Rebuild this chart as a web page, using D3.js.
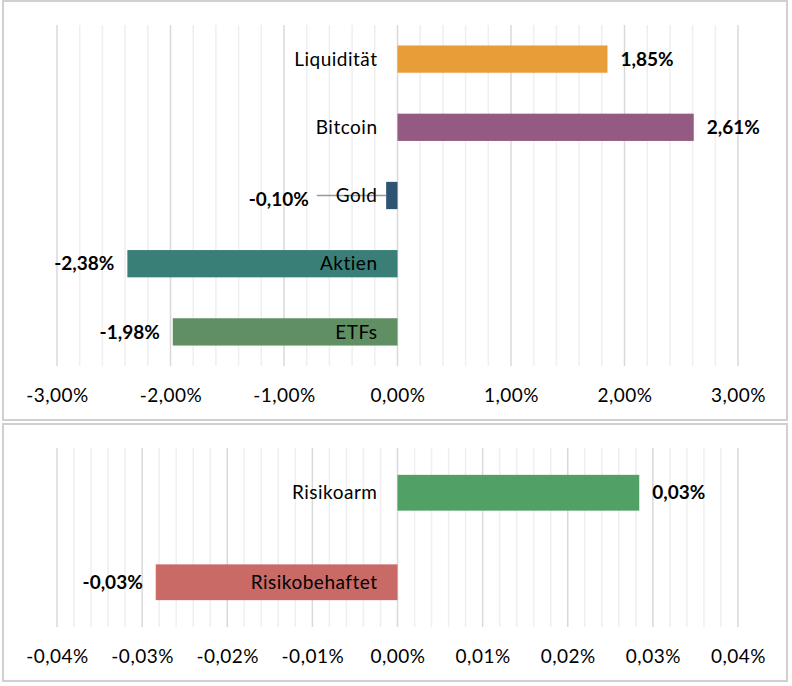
<!DOCTYPE html>
<html>
<head>
<meta charset="utf-8">
<script src="https://cdn.jsdelivr.net/npm/d3@7"></script>
<style>
  html, body { margin: 0; padding: 0; background: #fff; }
  svg { display: block; font-family: Lato, "Open Sans", sans-serif; }
</style>
</head>
<body>
<svg id="chart" width="792" height="686"></svg>
<script>
// ---- data ----
const topCategories = ["Liquidität", "Bitcoin", "Gold", "Aktien", "ETFs"];
const topValues = [1.85, 2.61, -0.10, -2.38, -1.98];          // percent
const topColors = ["#E89D38", "#955A82", "#2D5470", "#3A7F77", "#5F8F63"];
const topTicks = [-3, -2, -1, 0, 1, 2, 3];

const bottomCategories = ["Risikoarm", "Risikobehaftet"];
const bottomValues = [0.0284, -0.0284];                        // percent
const bottomLabels = ["0,03%", "-0,03%"];
const bottomColors = ["#51A066", "#C96A67"];
const bottomTicks = [-0.04, -0.03, -0.02, -0.01, 0, 0.01, 0.02, 0.03, 0.04];

const svg = d3.select("#chart");
const fmt = (dec) => (d) => d.toFixed(dec).replace(".", ",") + "%";

function panel(cfg) {
  const g = svg.append("g");
  g.append("rect")
    .attr("x", cfg.box[0]).attr("y", cfg.box[1])
    .attr("width", cfg.box[2]).attr("height", cfg.box[3])
    .attr("fill", "#fff").attr("stroke", "#d0d0d0").attr("stroke-width", 2);

  const x = d3.scaleLinear().domain(cfg.domain).range(cfg.xRange);
  const y = d3.scaleBand().domain(cfg.categories).range(cfg.yRange).paddingInner(0.6).paddingOuter(0.3);

  // minor grid
  const step = (cfg.ticks[1] - cfg.ticks[0]) / 5;
  const minor = d3.range(0, (cfg.ticks.length - 1) * 5 + 1).map(i => cfg.ticks[0] + i * step)
    .filter((v, i) => i % 5 !== 0);
  g.selectAll(".minor").data(minor).join("line")
    .attr("x1", d => x(d)).attr("x2", d => x(d))
    .attr("y1", cfg.yRange[0]).attr("y2", cfg.yRange[1])
    .attr("stroke", "#efefef").attr("stroke-width", 1.5);
  // major grid
  g.selectAll(".major").data(cfg.ticks).join("line")
    .attr("x1", d => x(d)).attr("x2", d => x(d))
    .attr("y1", cfg.yRange[0]).attr("y2", cfg.yRange[1])
    .attr("stroke", "#d9d9d9").attr("stroke-width", 1.5);

  // axis labels
  const axis = d3.axisBottom(x).tickValues(cfg.ticks).tickFormat(fmt(2)).tickSize(0).tickPadding(23);
  const ag = g.append("g").attr("transform", `translate(0,${cfg.yRange[1]})`).call(axis);
  ag.select(".domain").remove();
  ag.selectAll("text").attr("font-size", 19).attr("fill", "#000")
    .attr("letter-spacing", 0.5)
    .attr("font-family", "Lato, 'Open Sans', sans-serif");

  const data = cfg.categories.map((c, i) => ({ c, v: cfg.values[i], col: cfg.colors[i], lab: cfg.labels[i] }));

  // bars
  g.selectAll(".bar").data(data).join("rect")
    .attr("x", d => x(Math.min(0, d.v)))
    .attr("width", d => Math.abs(x(d.v) - x(0)))
    .attr("y", d => y(d.c)).attr("height", y.bandwidth())
    .attr("fill", d => d.col);

  // category labels
  const catText = g.selectAll(".cat").data(data).join("text")
    .attr("x", x(0) - 20)
    .attr("y", d => y(d.c) + y.bandwidth() / 2)
    .attr("dy", "0.35em")
    .attr("text-anchor", "end")
    .attr("font-size", 19)
    .attr("letter-spacing", 0.5)
    .attr("fill", "#000")
    .text(d => d.c);

  // value labels
  data.forEach((d, i) => {
    const cy = y(d.c) + y.bandwidth() / 2;
    let lx, anchor = d.v >= 0 ? "start" : "end";
    if (d.v >= 0) {
      lx = x(d.v) + 13;
    } else {
      lx = x(d.v) - 13;
      const catNode = catText.nodes()[i];
      const catLeft = x(0) - 20 - catNode.getComputedTextLength();
      if (lx > catLeft - 10) {
        // label collides with the category label: move out and draw leader line
        g.append("line")
          .attr("x1", catLeft - 19).attr("x2", x(d.v))
          .attr("y1", cy).attr("y2", cy)
          .attr("stroke", "#999").attr("stroke-width", 1.5);
        catText.filter(e => e === d).raise();
        lx = catLeft - 27;
      }
    }
    g.append("text")
      .attr("x", lx).attr("y", cy + (Math.abs(x(d.v) - x(0)) < 20 ? 4 : 0))
      .attr("dy", "0.35em")
      .attr("text-anchor", anchor)
      .attr("font-size", 19).attr("font-weight", 700)
      .attr("fill", "#000")
      .text(d.lab);
  });
}

panel({
  box: [3, 1, 784, 419],
  domain: [-3, 3], xRange: [57, 738], yRange: [25, 366],
  categories: topCategories, values: topValues, colors: topColors,
  labels: topValues.map(fmt(2)), ticks: topTicks
});

panel({
  box: [3, 424, 784, 257],
  domain: [-0.04, 0.04], xRange: [57, 738], yRange: [448, 627],
  categories: bottomCategories, values: bottomValues, colors: bottomColors,
  labels: bottomLabels, ticks: bottomTicks
});
</script>
</body>
</html>
